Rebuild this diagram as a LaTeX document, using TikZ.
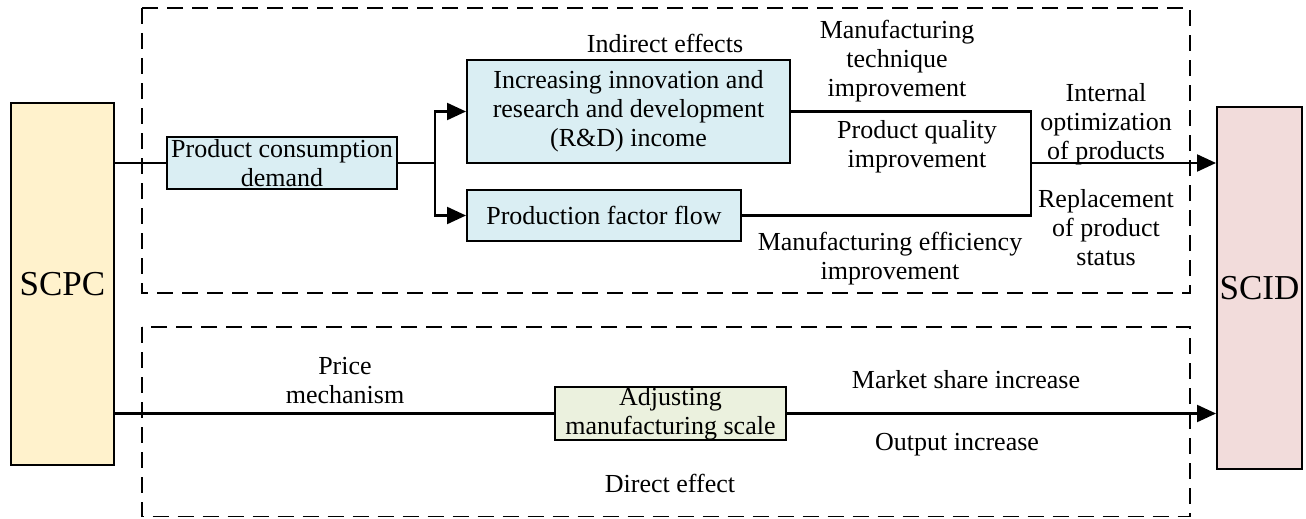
\documentclass[tikz,border=0pt]{standalone}
\usepackage{fontspec}
\setmainfont{Liberation Serif}
\usetikzlibrary{positioning,arrows.meta}

\definecolor{pcyellow}{HTML}{FFF2CC}
\definecolor{idpink}{HTML}{F2DCDB}
\definecolor{effblue}{HTML}{DAEEF3}
\definecolor{scalegreen}{HTML}{EBF1DE}

\tikzset{
	txt/.style={font=\fontsize{26}{29}\selectfont, align=center, inner sep=0pt},
	blokk/.style={txt, draw, line width=2pt, rectangle, minimum height=51pt},
	side/.style={blokk, minimum width=85pt, minimum height=362pt, font=\fontsize{35}{40}\selectfont},
	frame/.style={line width=1.8pt, dash pattern=on 16pt off 9pt},
	conn/.style={line width=2.2pt},
	arr/.style={conn, -{Triangle[length=19pt,width=17pt]}}
}

\begin{document}
\begin{tikzpicture}[x=1pt, y=-1pt]
\useasboundingbox (0,0) rectangle (1306,519);

% the two effect channels
\draw[frame] (142,8) rectangle (1190,293);
\draw[frame] (142,327) rectangle (1190,516.5);

	\node[side, fill=pcyellow, minimum width=103pt] (scpc) at (62.5,284) {SCPC};
	\node[side, fill=idpink] (scid) at (1259.5,288) {SCID};

% indirect effects
	\node[blokk, fill=effblue, minimum width=230pt, minimum height=52pt] (demand) at (282,163) {Product consumption\\demand};
	\node[blokk, fill=effblue, minimum width=323pt, minimum height=103pt] (rnd) at (628.5,111.5)
		{Increasing innovation and\\research and development\\(R\&D) income};
	\node[blokk, fill=effblue, minimum width=274pt] (factor) at (604,215.5) {Production factor flow};

	\coordinate (split) at (435,163);
	\coordinate (merge) at (1031,163);

	\draw[conn] (scpc.east |- demand) -- (demand);
	\draw[conn] (demand) -- (split);
	\draw[arr] (split) |- (rnd);
	\draw[arr] (split) |- (factor);
	\draw[conn] (rnd) -| (merge);
	\draw[conn] (factor) -| (merge);
	\draw[arr] (merge) -- (scid.west |- merge);

	\node[txt] (indirect) at (665,43) {Indirect effects};
	\node[txt] (technique) at (897,61) {Manufacturing\\technique\\improvement};
	\node[txt] (quality) at (917,147) {Product quality\\improvement};
	\node[txt] (efficiency) at (890,259) {Manufacturing efficiency\\improvement};
	\node[txt] (internal) at (1106,124) {Internal\\optimization\\of products};
	\node[txt] (replace) at (1106,228) {Replacement\\of product\\status};

% direct effect
	\node[blokk, fill=scalegreen, minimum width=231pt] (scale) at (670.5,413.5) {Adjusting\\manufacturing scale};

	\draw[conn] (scpc.east |- scale) -- (scale);
	\draw[arr] (scale) -- (scid.west |- scale);

	\node[txt] (price) at (345,381) {Price\\mechanism};
	\node[txt] (share) at (966,380) {Market share increase};
	\node[txt] (output) at (957,445) {Output increase};
	\node[txt] (direct) at (670,483) {Direct effect};

\end{tikzpicture}
\end{document}
